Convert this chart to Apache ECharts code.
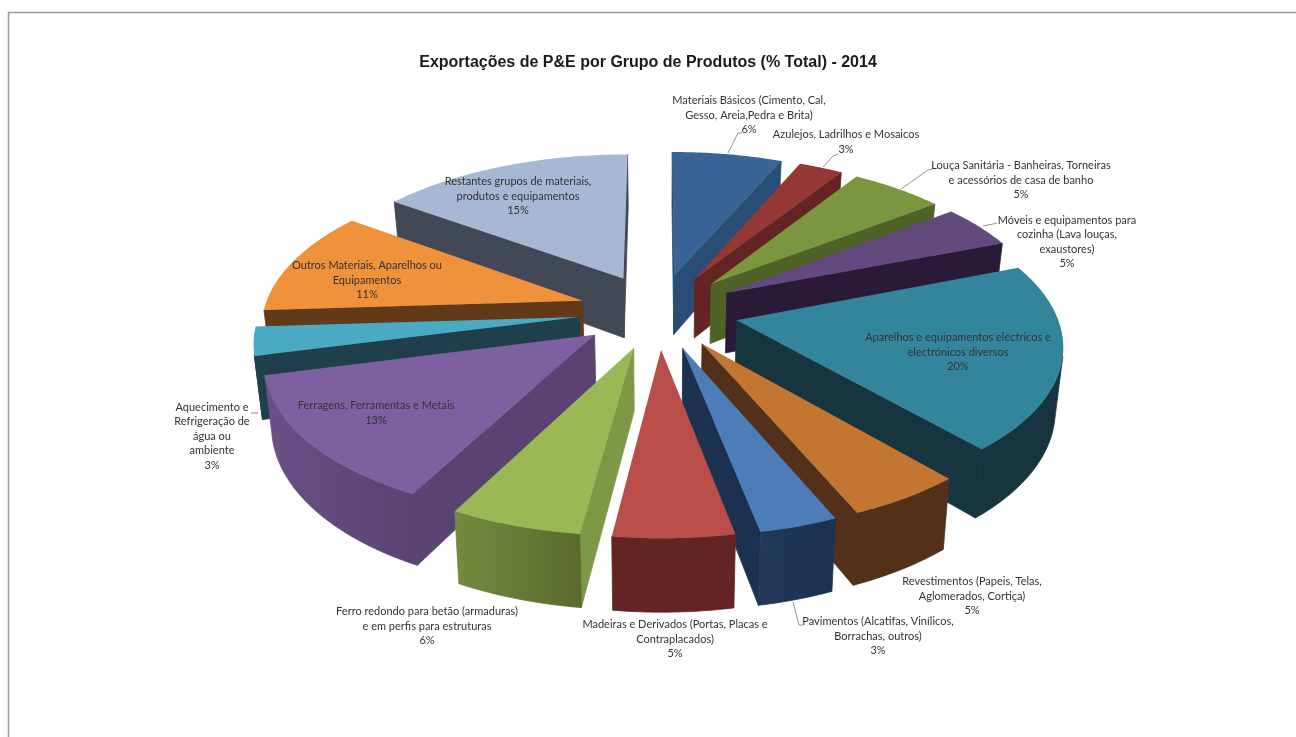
<!DOCTYPE html>
<html><head><meta charset="utf-8">
<style>html,body{margin:0;padding:0;background:#fff}#c{width:1296px;height:737px}</style>
<script src="https://cdn.jsdelivr.net/npm/echarts@6/dist/echarts.min.js"></script>
</head><body><div id="c"></div>
<script>
const titleText = 'Exportações de P&E por Grupo de Produtos (% Total) - 2014';
const categories = [
 'Materiais Básicos (Cimento, Cal,\nGesso, Areia,Pedra e Brita)',
 'Azulejos, Ladrilhos e Mosaicos',
 'Louça Sanitária - Banheiras, Torneiras\ne acessórios de casa de banho',
 'Móveis e equipamentos para\ncozinha (Lava louças,\nexaustores)',
 'Aparelhos e equipamentos eléctricos e\nelectrónicos diversos',
 'Revestimentos (Papeis, Telas,\nAglomerados, Cortiça)',
 'Pavimentos (Alcatifas, Vinílicos,\nBorrachas, outros)',
 'Madeiras e Derivados (Portas, Placas e\nContraplacados)',
 'Ferro redondo para betão (armaduras)\ne em perfis para estruturas',
 'Ferragens, Ferramentas e Metais',
 'Aquecimento e\nRefrigeração de\nágua ou\nambiente',
 'Outros Materiais, Aparelhos ou\nEquipamentos',
 'Restantes grupos de materiais,\nprodutos e equipamentos'
];
/* labels give rounded percentages; decimals */
const values = [6.49,2.6,5.49,4.55,19.5,4.97,3.33,5.13,5.6,13.34,3,11,15];

/* styles */
const topColors  = ['#3a6495','#953735','#7a963f','#624a7e','#33859c','#c37532','#4c7db8','#b94d4a','#9ab855','#7e60a0','#4aaac4','#f0913c','#a6b8d4'];
const sideColors = ['#2a4d75','#632523','#4f6228','#291a38','#17353f','#52301a','#1c3150','#632523','#7d9847','#5a4272','#1e3f4b','#633a18','#424856'];
const arcA = ['#2a4d75','#632523','#4f6228','#291a38','#17353f','#52301a','#1c3150','#632523','#5a6b2d','#5a4272','#1e3f4b','#633a18','#424856'];
const arcB = ['#2a4d75','#632523','#4f6228','#291a38','#17353f','#52301a','#213859','#632523','#738a40','#6a5088','#1e3f4b','#633a18','#424856'];
/* layout */
const labelPos = [[749,115],[846,142],[1021,180],[1067,242],[958,352],[972,596],[878,636],[675,639],[427,626],[376,413],[212,436],[367,280],[518,196]];
const leaders = [
 [[728,153],[738,133],[742,133]],
 [[823,167],[833,156],[838,154]],
 [[901,189],[928,170],[933,169]],
 [[983,226],[993,224],[997,223]],
 [[793,602],[799,625],[803,625]],
 [[251,413],[258,413]]
];
const G = {cx:658.5, cy:311, Rx:319, Ry:150, p:0.14, T:61, e:0.25, shrink:0.98};

const total = values.reduce((a,b)=>a+b,0);
const starts = []; values.reduce((a,v,i)=>(starts[i]=a,a+v),0);
function project(X,Y,bottom){
  const w=1+G.p*Y; let x=G.cx+G.Rx*X/w, y=G.cy-G.Ry*Y/w;
  if(bottom){ y+=G.T/w; x=G.cx+(x-G.cx)*G.shrink; }
  return [x,y];
}
function area(pts){let s=0;for(let i=0;i<pts.length;i++){const a=pts[i],b=pts[(i+1)%pts.length];s+=a[0]*b[1]-b[0]*a[1];}return s;}
function poly(pts,fill,edge){return {type:'polygon',shape:{points:pts},style:{fill:fill,stroke:edge?fill:null,lineWidth:edge?0.8:0},silent:true};}

function renderItem(params,api){
  const i=api.value(1), v=api.value(0);
  const a0=starts[i]/total*2*Math.PI, a1=(starts[i]+v)/total*2*Math.PI, mid=(a0+a1)/2;
  const ox=G.e*Math.sin(mid), oy=G.e*Math.cos(mid);
  const N=Math.max(12,Math.round(v*5));
  const pt=(a,b)=>project(ox+Math.sin(a),oy+Math.cos(a),b);
  const apexT=project(ox,oy,false), apexB=project(ox,oy,true);
  const arcT=[],arcBt=[];
  for(let k=0;k<=N;k++){const a=a0+(a1-a0)*k/N;arcT.push(pt(a,false));arcBt.push(pt(a,true));}
  const children=[];
  const startWall=[apexT,apexB,arcBt[0],arcT[0]];
  const endWall=[arcT[N],arcBt[N],apexB,apexT];
  if(area(startWall)>0)children.push(poly(startWall,sideColors[i],true));
  if(area(endWall)>0)children.push(poly(endWall,sideColors[i],true));
  /* outer wall: the run of arc steps that faces the viewer, as one shape */
  const vis=[];
  for(let k=0;k<N;k++){ if(area([arcT[k],arcBt[k],arcBt[k+1],arcT[k+1]])>0) vis.push(k); }
  if(vis.length){
    const f=vis[0], l=vis[vis.length-1]+1;
    const upper=arcT.slice(f,l+1), lower=arcBt.slice(f,l+1);
    const shape=upper.concat(lower.reverse());
    children.push(poly(shape,{type:'linear',x:arcT[f][0],y:0,x2:arcT[l][0],y2:0,global:true,
      colorStops:[{offset:0,color:arcA[i]},{offset:1,color:arcB[i]}]},true));
  }
  children.push(poly([apexT].concat(arcT),topColors[i],false));
  return {type:'group',children};
}
/* far slices first */
const order = values.map((v,i)=>i).sort((a,b)=>{
  const m=i=>Math.cos((starts[i]+values[i]/2)/total*2*Math.PI);return m(b)-m(a);
});
const labelFont={fontFamily:'Lato, "Open Sans", sans-serif',fontSize:11,lineHeight:14.5,fill:'#333'};
const graphics=[
 {type:'polyline',shape:{points:[[8.5,737],[8.5,12.5],[1296,12.5]]},style:{stroke:'#9a9a9a',fill:null,lineWidth:1.5},z:1}
];
leaders.forEach(l=>graphics.push({type:'polyline',shape:{points:l},style:{stroke:'#777',fill:null,lineWidth:0.8},z:20}));
categories.forEach((c,i)=>graphics.push({type:'text',x:labelPos[i][0],y:labelPos[i][1],z:30,
  style:Object.assign({text:c+'\n'+Math.round(values[i])+'%',align:'center',verticalAlign:'middle'},labelFont)}));

const chart=echarts.init(document.getElementById('c'),null,{renderer:'canvas'});
chart.setOption({
  backgroundColor:'#fff',animation:false,
  title:{text:titleText,left:643,top:50,textAlign:'center',textStyle:{fontFamily:'"Liberation Sans", Arial, sans-serif',fontSize:16,fontWeight:'bold',color:'#1a1a1a'}},
  graphic:graphics,
  series:[{type:'custom',coordinateSystem:'none',renderItem,silent:true,
    encode:{value:0},
    data:order.map(i=>({name:categories[i],value:[values[i],i]}))}]
});
</script></body></html>
